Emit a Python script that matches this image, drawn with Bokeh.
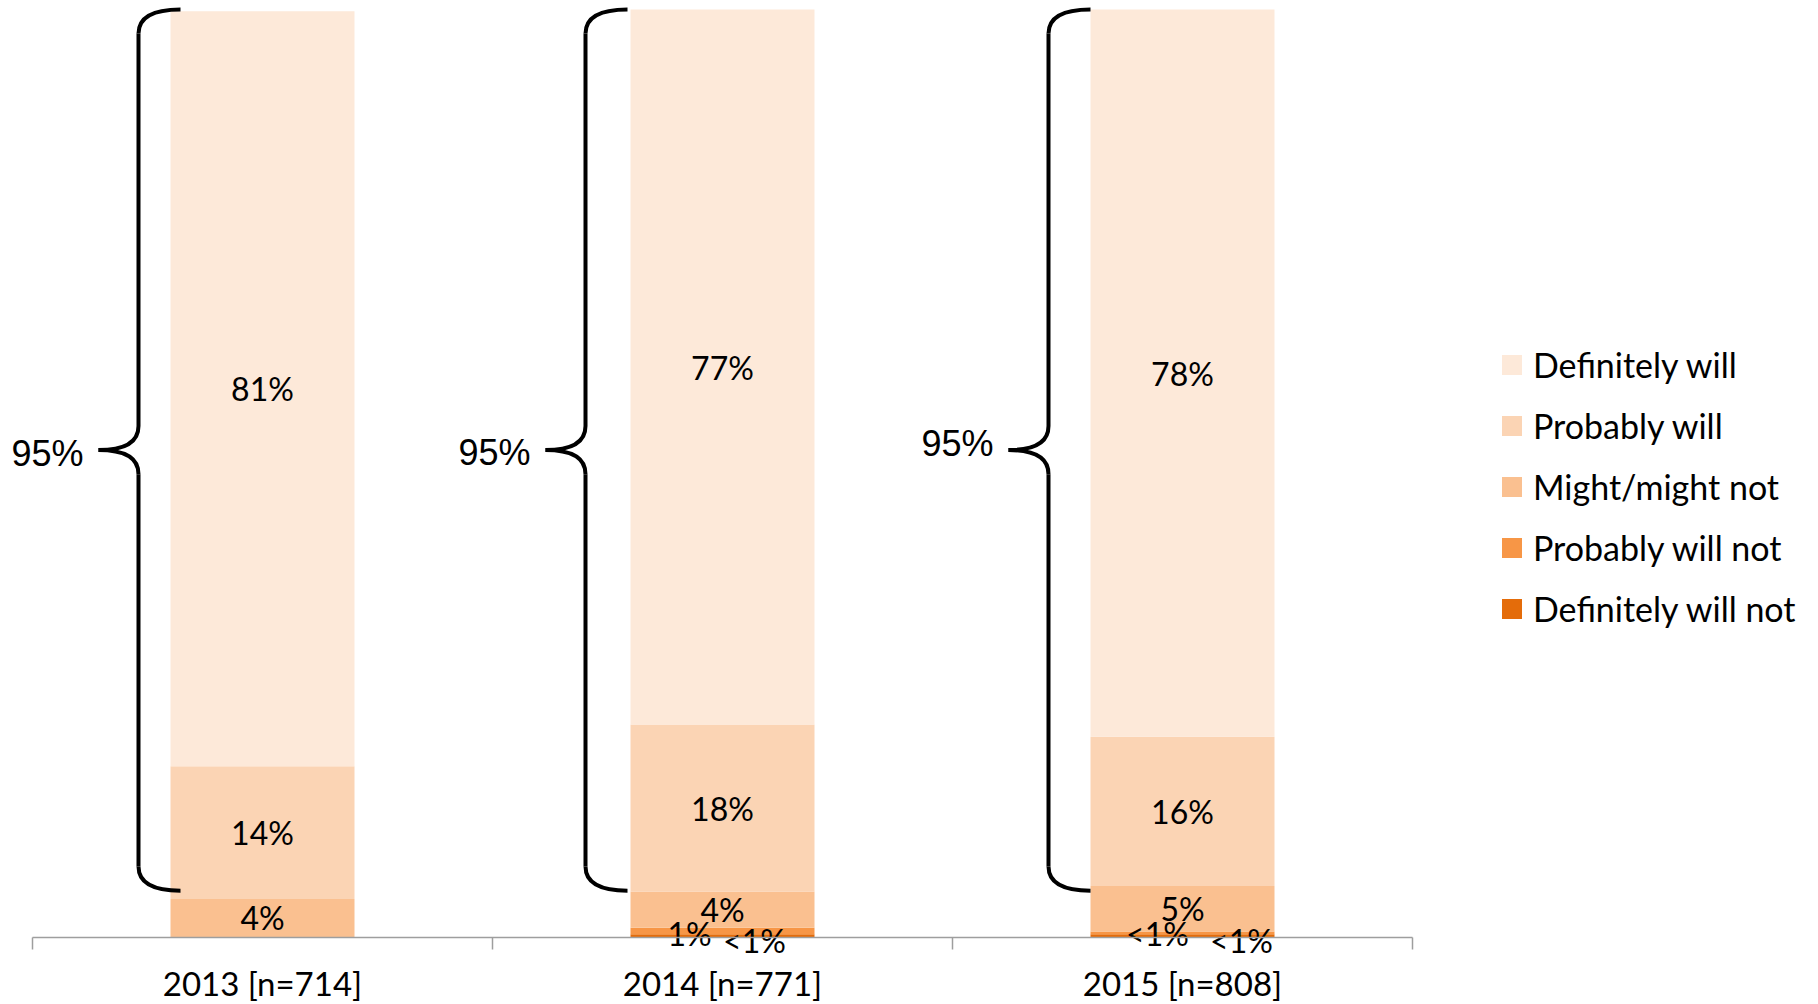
from bokeh.plotting import figure
from bokeh.models import Range1d, FixedTicker, Legend, LegendItem, ColumnDataSource
from bokeh.core.properties import value
from bokeh.embed import file_html
from bokeh.resources import INLINE

# ---------------- data ----------------
categories = ["2013 [n=714]", "2014 [n=771]", "2015 [n=808]"]
series = ["Definitely will", "Probably will", "Might/might not",
          "Probably will not", "Definitely will not"]
definitely_will = [81.4, 77.1, 78.4]
probably_will = [14.3, 18.0, 16.1]
might_might_not = [4.1, 3.9, 4.9]
probably_will_not = [0.0, 0.7, 0.3]
definitely_will_not = [0.0, 0.3, 0.3]
top_two_box = [95, 95, 95]   # bracketed "Definitely + Probably will"

colors = ["#FDE9D9", "#FBD4B4", "#FAC090", "#F79646", "#E46C0A"]

# ---------------- figure ----------------
FONT = "Lato"
W, H = 1816, 1002
px_x = 460.0           # pixels per category
px_y = 9.275           # pixels per percentage point
p = figure(width=W, height=H,
           x_range=Range1d(-32 / px_x, (W - 32) / px_x),
           y_range=Range1d(-(H - 936.5) / px_y, 100 + 9 / px_y),
           output_backend="svg", toolbar_location=None,
           y_axis_location=None,
           min_border_left=0, min_border_right=0,
           min_border_top=0, min_border_bottom=0)
p.outline_line_color = None
p.grid.visible = False
p.background_fill_color = "white"
p.border_fill_color = "white"

xs = [i + 0.5 for i in range(len(categories))]
values = {
    "Definitely will": definitely_will,
    "Probably will": probably_will,
    "Might/might not": might_might_not,
    "Probably will not": probably_will_not,
    "Definitely will not": definitely_will_not,
}
color_of = dict(zip(series, colors))

# stacking order: bottom -> top
stack_order = series[::-1]
src = ColumnDataSource(dict(x=xs, **{s: values[s] for s in series}))
renderers = p.vbar_stack(stack_order, x="x", width=0.4, source=src,
                         color=[color_of[s] for s in stack_order],
                         line_color=None)
rend_of = dict(zip(stack_order, renderers))

# ---------------- data labels ----------------
label_offsets = {  # (series, category index) -> (dx px, dy px) to untangle tiny segments
    ("Probably will not", 1): (-33, 3),
    ("Definitely will not", 1): (32, 5),
    ("Probably will not", 2): (-25, 1),
    ("Definitely will not", 2): (59, 5),
}
lx, ly, lt, ldx, ldy = [], [], [], [], []
for ci in range(len(categories)):
    base = 0.0
    for s in stack_order:
        v = values[s][ci]
        if v > 0:
            lx.append(xs[ci])
            ly.append(base + v / 2)
            lt.append("<1%" if v < 0.5 else f"{round(v)}%")
            dx, dy = label_offsets.get((s, ci), (0, 0))
            ldx.append(dx)
            ldy.append(dy)
        base += v
p.text(x=lx, y=ly, text=lt, x_offset=ldx, y_offset=ldy,
       text_align="center", text_baseline="middle",
       text_font=value(FONT), text_font_size="32px", text_color="#000000")

# ---------------- braces (hand-placed annotation) ----------------
stem_px = [-124, -137, -134]   # stem offset from bar centre, pixels
brace_label_dy = [3, 2, -7]    # small vertical nudges of the "95%" texts, pixels
xv = [x + d / px_x for x, d in zip(xs, stem_px)]   # vertical stem
xt = [x - 40 / px_x for x in xv]                   # tip
xe = [x + 42 / px_x for x in xv]                   # hook ends
top = [100.0] * len(xs)
bottom = [100.0 - t for t in top_two_box]
mid = [(a + b) / 2 for a, b in zip(top, bottom)]
r = 2.6
brace = dict(line_color="black", line_width=4)
# top hooks
p.quadratic(x0=xe, y0=top, x1=xv, y1=[t - r for t in top], cx=xv, cy=top, **brace)
# bottom hooks
p.quadratic(x0=xv, y0=[b + r for b in bottom], x1=xe, y1=bottom, cx=xv, cy=bottom, **brace)
# stems
p.segment(x0=xv + xv, y0=[t - r for t in top] + [m - r for m in mid],
          x1=xv + xv, y1=[m + r for m in mid] + [b + r for b in bottom], **brace)
# middle tip curves
p.quadratic(x0=xv + xv, y0=[m + r for m in mid] + [m - r for m in mid],
            x1=xt + xt, y1=mid + mid, cx=xv + xv, cy=mid + mid, **brace)
p.text(x=xt, y=mid, text=[f"{t}%" for t in top_two_box],
       x_offset=-15, y_offset=brace_label_dy,
       text_align="right", text_baseline="middle",
       text_font=value("Liberation Sans"), text_font_size="36px",
       text_color="#000000")

# ---------------- x axis ----------------
ax = p.xaxis[0]
ax.fixed_location = 0
ax.ticker = FixedTicker(ticks=xs, minor_ticks=[0, 1, 2, 3])
ax.bounds = (0, 3)
ax.major_label_overrides = {x: c for x, c in zip(xs, categories)}
ax.axis_line_color = "#9E9E9E"
ax.axis_line_width = 1.5
ax.major_tick_line_color = None
ax.major_tick_out = 0
ax.major_tick_in = 0
ax.minor_tick_line_color = "#9E9E9E"
ax.minor_tick_line_width = 1.5
ax.minor_tick_out = 12
ax.minor_tick_in = 0
ax.major_label_standoff = 14
ax.major_label_text_font = FONT
ax.major_label_text_font_size = "33px"
ax.major_label_text_color = "#000000"

# ---------------- legend ----------------
legend = Legend(items=[LegendItem(label=s, renderers=[rend_of[s]]) for s in series],
                location=(1499, 373), orientation="vertical",
                glyph_width=25, glyph_height=25, label_standoff=9,
                spacing=20, padding=0, margin=0, label_height=40,
                border_line_color=None, background_fill_alpha=0,
                label_text_font=FONT, label_text_font_size="34px",
                label_text_color="#000000")
p.add_layout(legend)

open("out.html", "w").write(file_html(p, INLINE))
